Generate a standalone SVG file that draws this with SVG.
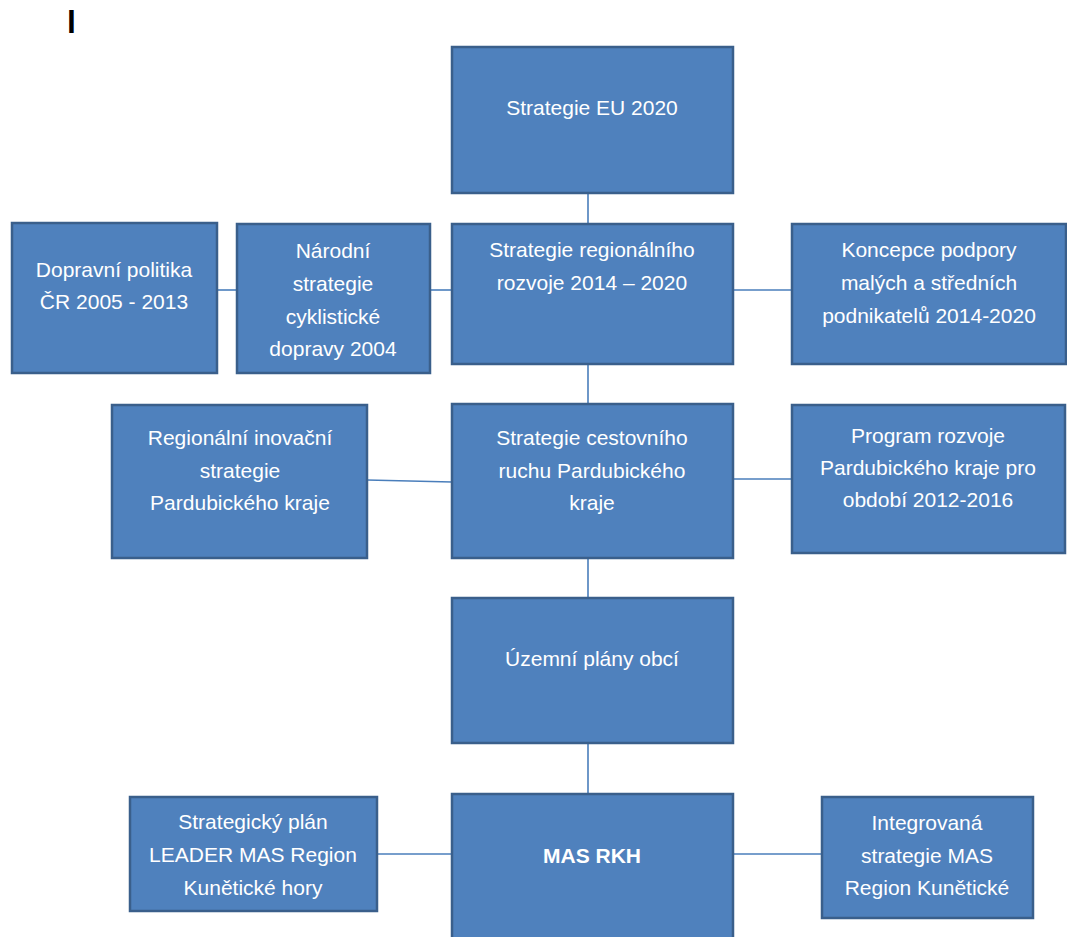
<svg xmlns="http://www.w3.org/2000/svg" width="1067" height="937" viewBox="0 0 1067 937">
<style>
.box{fill:#4f81bd;stroke:#3a5f8b;stroke-width:2.5}
.t{font-family:"Liberation Sans",Arial,sans-serif;font-size:21px;fill:#ffffff;text-anchor:middle}
.b{font-weight:bold}
.c{stroke:#4a7ebb;stroke-width:1.6;fill:none}
</style>
<rect width="1067" height="937" fill="#ffffff"/>
<text x="67" y="33" font-family="Liberation Sans,Arial,sans-serif" font-weight="bold" font-size="32" fill="#000000">l</text>
<g id="connectors">
<line class="c" x1="588" y1="193" x2="588" y2="224"/>
<line class="c" x1="217" y1="290" x2="237" y2="290"/>
<line class="c" x1="430" y1="290" x2="452" y2="290"/>
<line class="c" x1="733" y1="290" x2="792" y2="290"/>
<line class="c" x1="588" y1="364" x2="588" y2="404"/>
<line class="c" x1="367" y1="480" x2="452" y2="482"/>
<line class="c" x1="733" y1="479" x2="792" y2="479"/>
<line class="c" x1="588" y1="558" x2="588" y2="598"/>
<line class="c" x1="588" y1="743" x2="588" y2="794"/>
<line class="c" x1="377" y1="854" x2="452" y2="854"/>
<line class="c" x1="733" y1="854" x2="822" y2="854"/>
</g>
<g id="eu2020">
<rect class="box" x="452" y="47" width="281" height="146"/>
<text class="t" x="592" y="115">Strategie EU 2020</text>
</g>
<g id="dopravni">
<rect class="box" x="12" y="223" width="205" height="150"/>
<text class="t" x="114" y="277">Dopravní politika</text>
<text class="t" x="114" y="309">ČR 2005 - 2013</text>
</g>
<g id="narodni">
<rect class="box" x="237" y="224" width="193" height="149"/>
<text class="t" x="333" y="258">Národní</text>
<text class="t" x="333" y="291">strategie</text>
<text class="t" x="333" y="324">cyklistické</text>
<text class="t" x="333" y="356">dopravy 2004</text>
</g>
<g id="regionalni-rozvoj">
<rect class="box" x="452" y="224" width="281" height="140"/>
<text class="t" x="592" y="257">Strategie regionálního</text>
<text class="t" x="592" y="290">rozvoje 2014 – 2020</text>
</g>
<g id="koncepce">
<rect class="box" x="792" y="224" width="274" height="140"/>
<text class="t" x="929" y="257">Koncepce podpory</text>
<text class="t" x="929" y="290">malých a středních</text>
<text class="t" x="929" y="323">podnikatelů 2014-2020</text>
</g>
<g id="inovacni">
<rect class="box" x="112" y="405" width="255" height="153"/>
<text class="t" x="240" y="445">Regionální inovační</text>
<text class="t" x="240" y="478">strategie</text>
<text class="t" x="240" y="510">Pardubického kraje</text>
</g>
<g id="cestovni">
<rect class="box" x="452" y="404" width="281" height="154"/>
<text class="t" x="592" y="445">Strategie cestovního</text>
<text class="t" x="592" y="478">ruchu Pardubického</text>
<text class="t" x="592" y="510">kraje</text>
</g>
<g id="program">
<rect class="box" x="792" y="405" width="273" height="148"/>
<text class="t" x="928" y="443">Program rozvoje</text>
<text class="t" x="928" y="475">Pardubického kraje pro</text>
<text class="t" x="928" y="507">období 2012-2016</text>
</g>
<g id="uzemni">
<rect class="box" x="452" y="598" width="281" height="145"/>
<text class="t" x="592" y="666">Územní plány obcí</text>
</g>
<g id="strategicky">
<rect class="box" x="130" y="797" width="247" height="114"/>
<text class="t" x="253" y="829">Strategický plán</text>
<text class="t" x="253" y="862">LEADER MAS Region</text>
<text class="t" x="253" y="895">Kunětické hory</text>
</g>
<g id="masrkh">
<rect class="box" x="452" y="794" width="281" height="160"/>
<text class="t b" x="592" y="863">MAS RKH</text>
</g>
<g id="integrovana">
<rect class="box" x="822" y="797" width="211" height="121"/>
<text class="t" x="927" y="830">Integrovaná</text>
<text class="t" x="927" y="863">strategie MAS</text>
<text class="t" x="927" y="895">Region Kunětické</text>
</g>
</svg>
